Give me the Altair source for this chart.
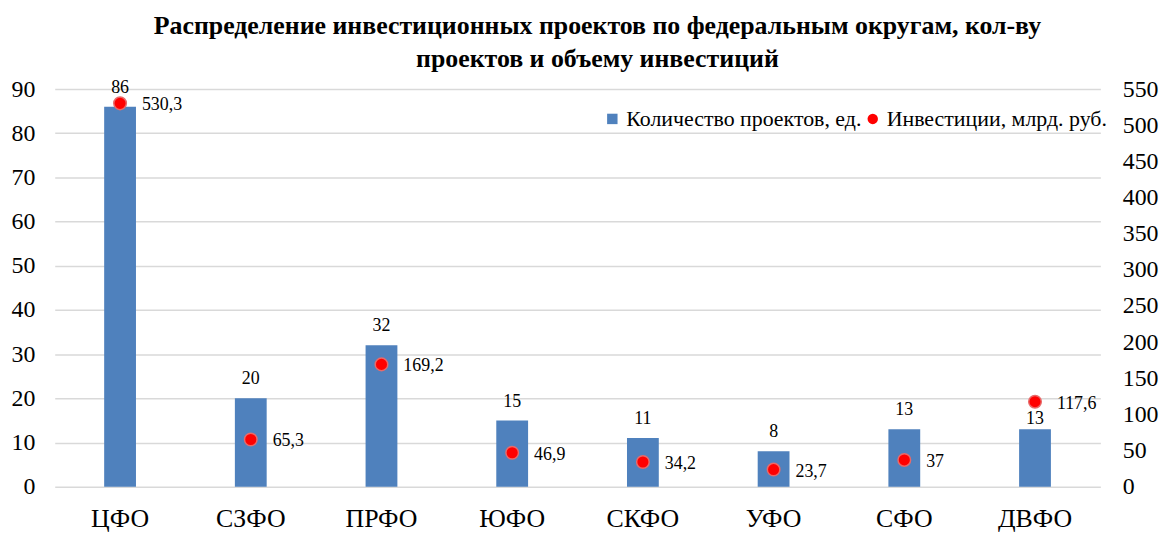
import altair as alt
import pandas as pd

districts = ["ЦФО", "СЗФО", "ПРФО", "ЮФО", "СКФО", "УФО", "СФО", "ДВФО"]
projects = [86, 20, 32, 15, 11, 8, 13, 13]
investments = [530.3, 65.3, 169.2, 46.9, 34.2, 23.7, 37, 117.6]
invest_labels = ["530,3", "65,3", "169,2", "46,9", "34,2", "23,7", "37", "117,6"]
left_ticks = list(range(0, 91, 10))
right_ticks = list(range(0, 551, 50))
series_names = ["Количество проектов, ед.", "Инвестиции, млрд. руб."]
title_lines = ["Распределение инвестиционных проектов по федеральным округам, кол-ву",
               "проектов и объему инвестиций"]

FONT = "Liberation Serif"

df = pd.DataFrame({"district": districts, "projects": projects,
                   "invest": investments, "invest_label": invest_labels})

x = alt.X("district:N", sort=districts,
          scale=alt.Scale(paddingInner=0, paddingOuter=0),
          axis=alt.Axis(title=None, labelAngle=0, labelFontSize=26, labelFont=FONT,
                        labelColor="black", ticks=False, domain=False, labelPadding=19,
                        labelBaseline="top", grid=False))

legend = alt.Legend(title=None, orient="none", legendX=550, legendY=19,
                    direction="horizontal", labelFont=FONT, labelFontSize=22,
                    labelColor="black", symbolSize=110, columnPadding=0, labelLimit=0,
                    labelOffset=3, symbolStrokeWidth=0)

color = alt.Color("series:N", scale=alt.Scale(domain=series_names, range=["#4f81bd", "#ff0000"]),
                  legend=legend)
shape = alt.Shape("series:N", scale=alt.Scale(domain=series_names, range=["square", "circle"]),
                  legend=legend)

left_scale = alt.Scale(domain=[0, 90], nice=False)
right_scale = alt.Scale(domain=[0, 550], nice=False)
left_axis = alt.Axis(values=left_ticks, title=None, labelFontSize=24, labelFont=FONT,
                     labelColor="black", ticks=False, domain=False, labelPadding=20,
                     gridColor="#d9d9d9", gridWidth=1.5)
right_axis = alt.Axis(orient="right", values=right_ticks, title=None, labelFontSize=24,
                      labelFont=FONT, labelColor="black", ticks=False, domain=False,
                      labelPadding=22, grid=False)

y_left = alt.Y("projects:Q", scale=left_scale, axis=left_axis)
y_right = alt.Y("invest:Q", scale=right_scale, axis=right_axis)

bars = alt.Chart().transform_calculate(series=f"'{series_names[0]}'").mark_bar(size=32).encode(
    x=x, y=y_left, color=color)
bar_text = alt.Chart().transform_filter("datum.district != 'ДВФО'").mark_text(
    baseline="bottom", dy=-10, fontSize=18, font=FONT, color="black").encode(
    x=x, y=y_left, text="projects:Q")
bar_text_low = alt.Chart().transform_filter("datum.district == 'ДВФО'").mark_text(
    baseline="bottom", dy=-1, fontSize=18, font=FONT, color="black").encode(
    x=x, y=y_left, text="projects:Q")

points = alt.Chart().transform_calculate(series=f"'{series_names[1]}'").mark_point(
    filled=True, size=160, stroke="#e86a6a", strokeWidth=1.5, opacity=1).encode(
    x=x, y=y_right, color=color, shape=shape)
point_text = alt.Chart().mark_text(align="left", baseline="middle", dx=22, dy=2, fontSize=18,
                                   font=FONT, color="black").encode(
    x=x, y=y_right, text="invest_label:N")

chart = alt.layer(
    alt.layer(bars, bar_text, bar_text_low),
    alt.layer(points, point_text),
    data=df,
).resolve_scale(y="independent").properties(
    width=1052, height=400,
    autosize="none",
    padding={"left": 47, "top": 80, "right": 60, "bottom": 46},
    title=alt.Title(text=title_lines, font=FONT, fontSize=26, fontWeight="bold",
                    color="black", anchor="middle", frame="group", offset=5,
                    lineHeight=33, dx=20),
    background="white",
).configure_view(stroke=None)

chart.save("out.html", embed_options={"renderer": "svg", "actions": False})
